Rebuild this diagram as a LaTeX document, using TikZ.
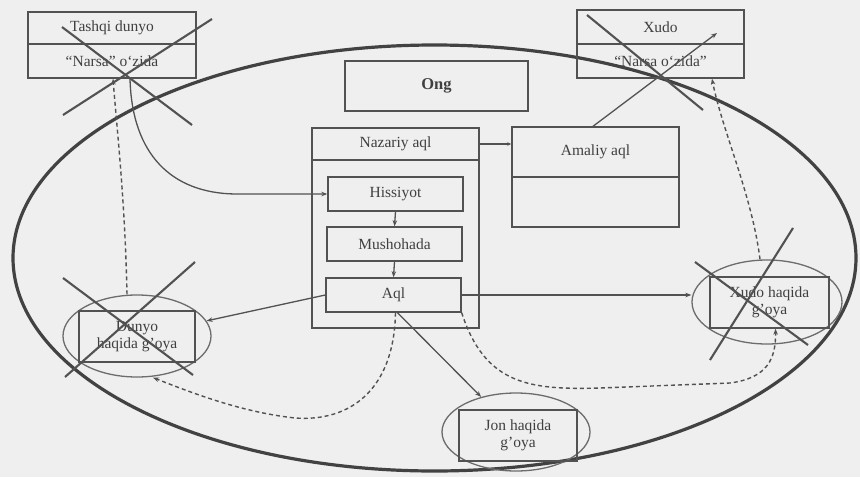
\documentclass[tikz,border=0pt]{standalone}
\usepackage{fontspec}
\setmainfont{Liberation Serif}
\usetikzlibrary{arrows.meta,shapes.geometric}
\definecolor{bg}{HTML}{EFEFEF}
\definecolor{ln}{HTML}{525252}
\definecolor{bigc}{HTML}{424242}
\begin{document}
\begin{tikzpicture}[x=1pt,y=-1pt,
  font=\fontsize{15.5}{17}\selectfont,
  box/.style={draw=ln,line width=1.4pt,inner sep=0pt,align=center,text=black!75},
  oval/.style={draw=ln!85,ellipse,line width=1.3pt,inner sep=0pt},
  cross/.style={draw=ln,line width=2.1pt},
  conn/.style={draw=ln,line width=1.3pt,-{Stealth[length=6pt,width=4.5pt]}},
  dconn/.style={conn,line width=1.4pt,dash pattern=on 4pt off 3pt}]
\fill[bg] (0,0) rectangle (860,477);
\useasboundingbox (0,0) rectangle (860,477);
% big ellipse
\draw[bigc,line width=3.2pt] (434.5,258) ellipse [x radius=421.5, y radius=213];
% top boxes
\node[box,minimum width=168pt,minimum height=32pt] (tashA) at (112,28) {Tashqi dunyo};
\node[box,minimum width=168pt,minimum height=34pt] (tashB) at (112,61) {“Narsa” o‘zida};
\node[box,minimum width=167pt,minimum height=34pt] (xudoA) at (660.5,27) {Xudo};
\node[box,minimum width=167pt,minimum height=34pt] (xudoB) at (660.5,61) {“Narsa o‘zida”};
\node[box,minimum width=183pt,minimum height=50pt,font=\fontsize{16.5}{18}\selectfont\bfseries] (ong) at (436.5,86) {Ong};
% Nazariy aql
\node[box,minimum width=167pt,minimum height=32pt] (nazH) at (395.5,144) {Nazariy aql};
\node[box,minimum width=167pt,minimum height=168pt] (nazB) at (395.5,244) {};
\node[box,minimum width=135pt,minimum height=34pt] (his) at (395.5,194) {Hissiyot};
\node[box,minimum width=135pt,minimum height=34pt] (mush) at (394.5,244) {Mushohada};
\node[box,minimum width=135pt,minimum height=34pt] (aql) at (393.5,295) {Aql};
% Amaliy aql
\node[box,minimum width=167pt,minimum height=50pt] (amaH) at (595.5,152) {Amaliy aql};
\node[box,minimum width=167pt,minimum height=50pt] (amaB) at (595.5,202) {};
% idea nodes
\node[oval,minimum width=148pt,minimum height=82pt] (dunyoE) at (137,336) {};
\node[box,minimum width=116pt,minimum height=51pt] (dunyo) at (137,336.5) {Dunyo\\haqida g'oya};
\node[oval,minimum width=150pt,minimum height=84pt] (xudoE) at (767,302) {};
\node[box,minimum width=119pt,minimum height=51pt] (xudo) at (769.5,302.5) {Xudo haqida\\g'oya};
\node[oval,minimum width=148pt,minimum height=78pt] (jonE) at (516,432) {};
\node[box,minimum width=118pt,minimum height=51pt] (jon) at (518,435.5) {Jon haqida\\g'oya};
% connectors
\draw[conn] ([xshift=18pt]tashB.south) .. controls (132,155) and (172,193) .. (235,194) -- (his.west);
\draw[conn,-{Stealth[length=4pt,width=3.5pt]}] (nazH.east) -- (nazH.east -| amaH.west);
\draw[conn] (his.south) -- (mush.north);
\draw[conn] (mush.south) -- (aql.north);
\draw[conn] (aql.west) -- (dunyoE);
\draw[conn] (aql.east) -- (aql.east -| xudoE.west);
\draw[conn] ([xshift=4pt]aql.south) -- (jonE);
\coordinate (xtip) at (717,33);
\draw[conn] ([xshift=-2.5pt]amaH.north) -- (xtip);
% dashed connectors
\draw[dconn] ([xshift=2pt]aql.south) .. controls (394,390) and (350,422) .. (295,418) .. controls (240,412) and (190,392) .. ([xshift=16pt]dunyoE.south);
\draw[dconn] (aql.south east) .. controls (485,385) and (530,390) .. (600,388) -- (730,383) .. controls (768,378) and (776,358) .. ([xshift=6pt]xudo.south);
\draw[dconn] ([xshift=-10pt]dunyoE.north) .. controls (125,200) and (117,130) .. ([xshift=1pt]tashB.south);
\draw[dconn] ([xshift=-7pt]xudoE.north) .. controls (752,195) and (722,130) .. ([xshift=51.5pt]xudoB.south);
% crossing-out lines
\draw[cross] (62,27) -- (192,125);
\draw[cross] (212,19) -- (63,115);
\draw[cross] (587,15) -- (703,110);
\draw[cross] (63,278) -- (193,375);
\draw[cross] (195,262) -- (65,377);
\draw[cross] (695,262) -- (808,345);
\draw[cross] (793,228) -- (710,360);
\end{tikzpicture}
\end{document}
